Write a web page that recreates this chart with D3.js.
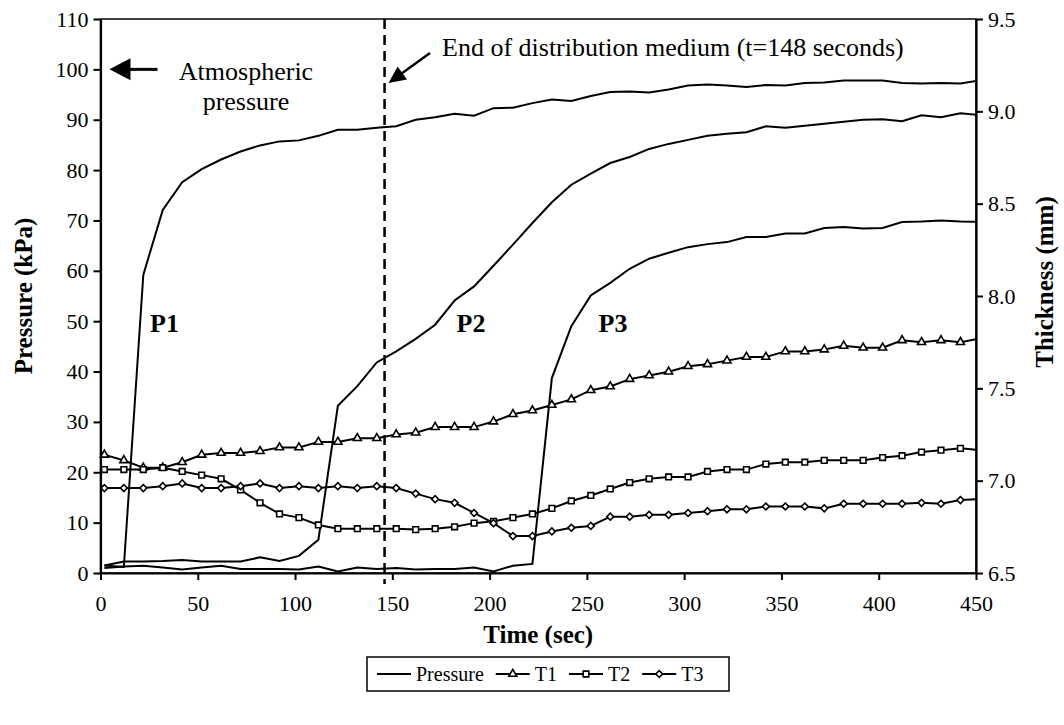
<!DOCTYPE html>
<html>
<head>
<meta charset="utf-8">
<script src="https://cdn.jsdelivr.net/npm/d3@7"></script>
<style>
  body { margin: 0; background: #fff; }
  svg { font-family: "Liberation Serif", "Times New Roman", serif; }
</style>
</head>
<body>
<svg id="chart" width="1064" height="725"></svg>
<script>
// sample times (sec); the last one lies past the axis end and is clipped
const time = [2, 12, 22, 32, 42, 52, 62, 72, 82, 92, 102, 112, 122, 132, 142, 152,
  162, 172, 182, 192, 202, 212, 222, 232, 242, 252, 262, 272, 282, 292, 302, 312,
  322, 332, 342, 352, 362, 372, 382, 392, 402, 412, 422, 432, 442, 452];

// pressure (kPa), left axis
const p1 = [1.5, 1.2, 59.2, 72.1, 77.6, 80.2, 82.1, 83.7, 84.9, 85.7, 85.9, 86.8, 88.0, 88.0, 88.4, 88.7,
  90.0, 90.5, 91.2, 90.8, 92.3, 92.4, 93.3, 94.0, 93.7, 94.7, 95.5, 95.6, 95.4, 96.0, 96.8, 97.0,
  96.8, 96.5, 96.9, 96.8, 97.3, 97.4, 97.8, 97.8, 97.8, 97.3, 97.2, 97.3, 97.2, 97.8];
const p2 = [1.5, 2.3, 2.3, 2.4, 2.6, 2.3, 2.3, 2.3, 3.1, 2.4, 3.4, 6.6, 33.2, 37.1, 41.8, 44.0,
  46.5, 49.3, 54.1, 56.9, 61.0, 65.2, 69.5, 73.6, 77.1, 79.3, 81.4, 82.6, 84.2, 85.2, 86.0, 86.8,
  87.2, 87.5, 88.7, 88.4, 88.8, 89.2, 89.6, 90.0, 90.1, 89.7, 90.9, 90.5, 91.3, 90.9];
const p3 = [1.0, 1.3, 1.45, 1.1, 0.7, 1.1, 1.45, 0.8, 0.8, 0.8, 0.7, 1.3, 0.3, 1.1, 0.8, 1.0,
  0.7, 0.8, 0.8, 1.1, 0.3, 1.45, 1.8, 38.7, 49.0, 55.1, 57.6, 60.4, 62.4, 63.6, 64.7, 65.3,
  65.7, 66.7, 66.7, 67.4, 67.4, 68.5, 68.7, 68.4, 68.5, 69.7, 69.8, 70.0, 69.8, 69.7];

// thickness (mm), right axis
const t1 = [7.14, 7.11, 7.07, 7.07, 7.10, 7.14, 7.15, 7.15, 7.16, 7.18, 7.18, 7.21, 7.21, 7.23, 7.23, 7.25,
  7.26, 7.29, 7.29, 7.29, 7.32, 7.36, 7.38, 7.41, 7.44, 7.49, 7.51, 7.55, 7.57, 7.59, 7.62, 7.63,
  7.65, 7.67, 7.67, 7.70, 7.70, 7.71, 7.73, 7.72, 7.72, 7.76, 7.75, 7.76, 7.75, 7.77];
const t2 = [7.06, 7.06, 7.06, 7.07, 7.05, 7.03, 7.01, 6.95, 6.88, 6.82, 6.80, 6.76, 6.74, 6.74, 6.74, 6.74,
  6.735, 6.74, 6.75, 6.77, 6.78, 6.80, 6.82, 6.85, 6.89, 6.92, 6.955, 6.99, 7.01, 7.02, 7.02, 7.05,
  7.06, 7.06, 7.09, 7.10, 7.10, 7.11, 7.11, 7.11, 7.125, 7.135, 7.155, 7.165, 7.175, 7.165];
const t3 = [6.96, 6.96, 6.96, 6.97, 6.985, 6.96, 6.96, 6.97, 6.985, 6.96, 6.97, 6.96, 6.97, 6.96, 6.97, 6.96,
  6.93, 6.90, 6.88, 6.825, 6.77, 6.70, 6.70, 6.725, 6.745, 6.755, 6.805, 6.805, 6.815, 6.815, 6.825, 6.835,
  6.845, 6.845, 6.86, 6.86, 6.86, 6.85, 6.875, 6.875, 6.875, 6.875, 6.88, 6.875, 6.895, 6.90];

const xTicks = d3.range(0, 451, 50);
const leftTicks = d3.range(0, 111, 10);
const rightTicks = [6.5, 7.0, 7.5, 8.0, 8.5, 9.0, 9.5];
const endOfMedium = 146;   // where the dashed line sits in the picture
const atmospheric = 100;

const svg = d3.select("#chart");

const x = d3.scaleLinear().domain([0, 450]).range([100.5, 976]);
const yL = d3.scaleLinear().domain([0, 110]).range([573, 19]);
const yR = d3.scaleLinear().domain([6.5, 9.5]).range([573, 19]);

svg.append("defs").append("clipPath").attr("id", "plot")
  .append("rect")
  .attr("x", x(0)).attr("y", yL(110))
  .attr("width", x(450) - x(0)).attr("height", yL(0) - yL(110));

// plot frame
svg.append("rect")
  .attr("x", x(0)).attr("y", yL(110))
  .attr("width", x(450) - x(0)).attr("height", yL(0) - yL(110))
  .attr("fill", "none").attr("stroke", "#000").attr("stroke-width", 1.5);

// dashed end-of-medium line
svg.append("line")
  .attr("x1", x(endOfMedium)).attr("x2", x(endOfMedium))
  .attr("y1", yL(110)).attr("y2", yL(0) + 11)
  .attr("stroke", "#000").attr("stroke-width", 2.5)
  .attr("stroke-dasharray", "10,6");

const lines = svg.append("g").attr("clip-path", "url(#plot)");

const series = [
  { name: "P1", vals: p1, y: yL, marker: null },
  { name: "P2", vals: p2, y: yL, marker: null },
  { name: "P3", vals: p3, y: yL, marker: null },
  { name: "T1", vals: t1, y: yR, marker: "triangle" },
  { name: "T2", vals: t2, y: yR, marker: "square" },
  { name: "T3", vals: t3, y: yR, marker: "diamond" }
];

function markerPath(kind) {
  if (kind === "triangle") return d3.symbol(d3.symbolTriangle, 28)();
  if (kind === "square") return d3.symbol(d3.symbolSquare, 32)();
  return d3.symbol(d3.symbolSquare, 24)();
}
function markerTransform(kind, px, py) {
  return kind === "diamond" ? `translate(${px},${py}) rotate(45)` : `translate(${px},${py})`;
}

series.forEach(s => {
  const ln = d3.line().x((d, i) => x(time[i])).y(d => s.y(d));
  lines.append("path")
    .attr("d", ln(s.vals))
    .attr("fill", "none")
    .attr("stroke", "#000")
    .attr("stroke-width", 2);
});

series.filter(s => s.marker).forEach(s => {
  const pts = s.vals.map((v, i) => [time[i], v]).filter(d => d[0] <= 450);
  svg.append("g").selectAll("path")
    .data(pts)
    .enter()
    .append("path")
    .attr("d", markerPath(s.marker))
    .attr("transform", d => markerTransform(s.marker, x(d[0]), s.y(d[1])))
    .attr("fill", "#fff")
    .attr("stroke", "#000")
    .attr("stroke-width", 1.6);
});

// axes
const axisLeft = svg.append("g")
  .attr("transform", `translate(${x(0)},0)`)
  .call(d3.axisLeft(yL).tickValues(leftTicks).tickSize(7).tickSizeOuter(0).tickPadding(5));
const axisRight = svg.append("g")
  .attr("transform", `translate(${x(450)},0)`)
  .call(d3.axisRight(yR).tickValues(rightTicks).tickSize(7).tickSizeOuter(0).tickPadding(5)
    .tickFormat(d3.format(".1f")));
const axisBottom = svg.append("g")
  .attr("transform", `translate(0,${yL(0)})`)
  .call(d3.axisBottom(x).tickValues(xTicks).tickSize(7).tickSizeOuter(0).tickPadding(15));

[axisLeft, axisRight, axisBottom].forEach(a => {
  a.select(".domain").attr("stroke-width", 2.2);
  a.selectAll(".tick line").attr("stroke-width", 2);
  a.selectAll("text").style("font-size", "22px").style("font-family", "Liberation Serif").attr("fill", "#000");
});

// axis titles
svg.append("text")
  .attr("x", (x(0) + x(450)) / 2).attr("y", 643)
  .attr("text-anchor", "middle")
  .style("font-size", "25px").style("font-weight", "bold")
  .text("Time (sec)");

svg.append("text")
  .attr("transform", `translate(32,${(yL(0) + yL(110)) / 2}) rotate(-90)`)
  .attr("text-anchor", "middle")
  .style("font-size", "25px").style("font-weight", "bold")
  .text("Pressure (kPa)");

svg.append("text")
  .attr("transform", `translate(1053,${(yL(0) + yL(110)) / 2 - 14}) rotate(-90)`)
  .attr("text-anchor", "middle")
  .style("font-size", "25px").style("font-weight", "bold")
  .text("Thickness (mm)");

// curve labels
const curveLabels = [
  { text: "P1", t: 25.5 },
  { text: "P2", t: 183 },
  { text: "P3", t: 256 }
];
svg.selectAll(".plabel")
  .data(curveLabels)
  .enter()
  .append("text")
  .attr("class", "plabel")
  .attr("x", d => x(d.t))
  .attr("y", 332)
  .style("font-size", "26px").style("font-weight", "bold")
  .text(d => d.text);

// annotations: left-pointing arrow at atmospheric pressure
svg.append("path")
  .attr("d", "M0,0L21,-11L21,11Z")
  .attr("transform", `translate(${x(0) + 9},${yL(atmospheric)})`)
  .attr("fill", "#000");
svg.append("line")
  .attr("x1", x(0) + 28).attr("x2", x(0) + 57)
  .attr("y1", yL(atmospheric)).attr("y2", yL(atmospheric))
  .attr("stroke", "#000").attr("stroke-width", 3);

svg.append("text")
  .attr("x", 246).attr("y", 80)
  .attr("text-anchor", "middle")
  .style("font-size", "26px")
  .text("Atmospheric");
svg.append("text")
  .attr("x", 246).attr("y", 110)
  .attr("text-anchor", "middle")
  .style("font-size", "26px")
  .text("pressure");

// diagonal arrow to the dashed line
const tipX = x(endOfMedium) + 4, tipY = 83;
const tailX = 430, tailY = 53;
const ang = Math.atan2(tipY - tailY, tipX - tailX);
svg.append("line")
  .attr("x1", tailX).attr("y1", tailY)
  .attr("x2", tipX - 14 * Math.cos(ang)).attr("y2", tipY - 14 * Math.sin(ang))
  .attr("stroke", "#000").attr("stroke-width", 2.5);
svg.append("path")
  .attr("d", "M0,0L-17,-8L-17,8Z")
  .attr("transform", `translate(${tipX},${tipY}) rotate(${ang * 180 / Math.PI})`)
  .attr("fill", "#000");

svg.append("text")
  .attr("x", 442).attr("y", 56)
  .style("font-size", "26px")
  .text("End of distribution medium (t=148 seconds)");

// legend
const legendItems = [
  { label: "Pressure", marker: null },
  { label: "T1", marker: "triangle" },
  { label: "T2", marker: "square" },
  { label: "T3", marker: "diamond" }
];
const legend = svg.append("g").attr("transform", "translate(367,657)");
legend.append("rect")
  .attr("width", 362).attr("height", 34)
  .attr("fill", "#fff").attr("stroke", "#000").attr("stroke-width", 1.5);

let lx = 10;
legendItems.forEach(item => {
  const gItem = legend.append("g").attr("transform", `translate(${lx},17)`);
  gItem.append("line")
    .attr("x1", 0).attr("x2", 34)
    .attr("stroke", "#000").attr("stroke-width", 2);
  if (item.marker) {
    gItem.append("path")
      .attr("d", markerPath(item.marker))
      .attr("transform", markerTransform(item.marker, 17, 0))
      .attr("fill", "#fff").attr("stroke", "#000").attr("stroke-width", 1.6);
  }
  const txt = gItem.append("text")
    .attr("x", 39).attr("y", 7)
    .style("font-size", "20px")
    .text(item.label);
  lx += 39 + txt.node().getComputedTextLength() + 12;
});
</script>
</body>
</html>
